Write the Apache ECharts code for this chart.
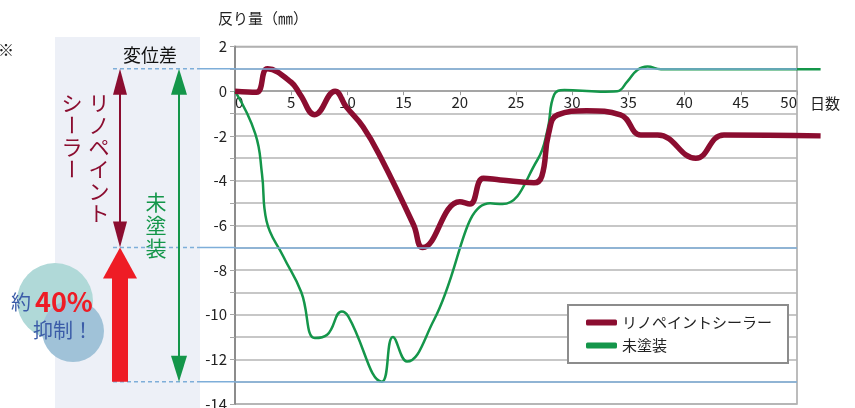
<!DOCTYPE html>
<html><head><meta charset="utf-8">
<script src="https://cdn.jsdelivr.net/npm/echarts@6/dist/echarts.min.js"></script>
<style>html,body{margin:0;padding:0;background:#fff}#c{width:855px;height:408px}</style>
</head><body><div id="c"></div>
<script>
// ---- data ----
const seriesNames = ['リノペイントシーラー', '未塗装'];
const redDays = [0, 1.9, 2.9, 5.0, 5.8, 7.1, 8.9, 9.9, 11.4, 13.0, 15.9, 16.7, 20.0, 20.9, 22.1, 23.6, 26.6, 27.3, 27.9, 28.7, 31.3, 34.3, 36.1, 37.6, 41.0, 43.5, 52.1];
const redVals = [0, -0.05, 1.0, 0.4, -0.15, -1.05, 0, -0.7, -1.6, -3.0, -6.0, -7.0, -4.95, -5.05, -3.9, -3.97, -4.1, -3.8, -1.9, -1.06, -0.87, -1.06, -1.96, -1.96, -3.0, -1.96, -2.0];
const greenDays = [0, 1.8, 2.4, 2.8, 4.3, 5.9, 7.1, 8.2, 9.5, 10.1, 13.07, 14.05, 15.3, 17.7, 22.7, 23.8, 26.9, 27.8, 28.4, 29.3, 32.5, 34.0, 34.9, 35.8, 36.7, 37.9, 52.1];
const greenVals = [0, -1.9, -3.7, -5.8, -7.4, -9.0, -11.05, -10.9, -9.86, -10.1, -13.0, -11.0, -12.1, -10.24, -5.02, -5.05, -3.08, -1.74, -0.15, 0.05, -0.02, 0, 0.43, 0.95, 1.1, 0.98, 0.98];
const refLevels = [1, -7, -13];     // reference lines: untreated final, sealer min, untreated min
const yMin = -14, yMax = 2, xMin = 0, xMax = 50;

const FONT = '"Noto Sans CJK JP", "Noto Sans", sans-serif';
const RED = '#8b0d30', GREEN = '#14964a', BLUE_LINE = '#7eaed9', TXT_BLUE = '#3b5ca8';

const zip = (a, b) => a.map((v, i) => [v, b[i]]);
const chart = echarts.init(document.getElementById('c'));

// the curves run a little past the plot frame (day 50); an invisible second grid with the
// same day scale but a wider extent carries them.
const G_LEFT = 235, G_RIGHT = 58, G_TOP = 46.5, G_BOTTOM = 4;
const xExt = Math.max(redDays[redDays.length - 1], greenDays[greenDays.length - 1]);
const plotW = chart.getWidth() - G_LEFT - G_RIGHT;
const extRight = chart.getWidth() - G_LEFT - plotW * (xExt - xMin) / (xMax - xMin);

chart.setOption({
  animation: false,
  textStyle: { fontFamily: FONT },
  grid: [
    { left: G_LEFT, right: G_RIGHT, top: G_TOP, bottom: G_BOTTOM, outerBoundsMode: 'none', containLabel: false,
      show: true, borderColor: '#a6a6a6', borderWidth: 1.5, backgroundColor: 'transparent' },
    { left: G_LEFT, right: extRight, top: G_TOP, bottom: G_BOTTOM, outerBoundsMode: 'none', containLabel: false, show: false }
  ],
  xAxis: [{
    type: 'value', min: xMin, max: xMax, interval: 5, position: 'bottom', offset: 0, gridIndex: 0,
    axisLine: { onZero: false, lineStyle: { color: '#9a9a9a', width: 1.5 } },
    axisTick: { show: true, length: 4, lineStyle: { color: '#9a9a9a' } },
    axisLabel: { fontSize: 15, color: '#222', margin: 4, fontFamily: FONT, alignMinLabel: 'left', alignMaxLabel: 'right' },
    splitLine: { show: false }
  }, {
    type: 'value', min: xMin, max: xExt, gridIndex: 1, show: false
  }],
  yAxis: [{
    type: 'value', min: yMin, max: yMax, interval: 1, gridIndex: 0,
    axisLine: { show: true, onZero: false, lineStyle: { color: '#8c8c8c', width: 2 } },
    axisTick: { show: true, length: 5, lineStyle: { color: '#a6a6a6' } },
    axisLabel: { fontSize: 15, color: '#222', margin: 8, fontFamily: FONT,
      formatter: v => (Math.round(v) % 2 === 0 ? String(v) : '') },
    splitLine: { show: true, lineStyle: { color: '#b4b4b4', width: 1.5 } }
  }, {
    type: 'value', min: yMin, max: yMax, gridIndex: 1, show: false, splitLine: { show: false }
  }],
  legend: {
    data: seriesNames, orient: 'vertical', left: 568, top: 305,
    backgroundColor: '#fff', borderColor: '#8c8c8c', borderWidth: 2,
    padding: [10, 16, 10, 18], itemGap: 8, itemWidth: 31, itemHeight: 6, icon: 'roundRect',
    textStyle: { fontSize: 15, color: '#222', fontFamily: FONT }
  },
  series: [
    { name: 'ref', type: 'line', data: [], z: 1, silent: true, xAxisIndex: 0, yAxisIndex: 0,
      markLine: { silent: true, symbol: 'none', label: { show: false },
        lineStyle: { color: BLUE_LINE, width: 1.5, type: 'solid' },
        data: refLevels.map(v => ({ yAxis: v })) } },
    { name: seriesNames[0], type: 'line', data: zip(redDays, redVals), z: 4, clip: false, xAxisIndex: 1, yAxisIndex: 1,
      smooth: 0.45, showSymbol: false, color: RED, lineStyle: { color: RED, width: 5.5 } },
    { name: seriesNames[1], type: 'line', data: zip(greenDays, greenVals), z: 3, clip: false, xAxisIndex: 1, yAxisIndex: 1,
      smooth: 0.45, showSymbol: false, color: GREEN, lineStyle: { color: GREEN, width: 2.5 } }
  ]
});

// ---- annotations tied to data levels ----
const py = v => chart.convertToPixel({ gridIndex: 0 }, [0, v])[1];
// move the x axis (line, ticks, labels) up to the y = 0 line
chart.setOption({ xAxis: [{ offset: py(0) - py(yMin) }, {}] });

const yTop = py(refLevels[0]), yMid = py(refLevels[1]), yBot = py(refLevels[2]);
const gridLeft = chart.convertToPixel({ gridIndex: 0 }, [xMin, 0])[0];

function head(x, tipY, dir, hw, len, color) {
  return { type: 'polygon', shape: { points: [[x, tipY], [x - hw, tipY + dir * len], [x + hw, tipY + dir * len]] }, style: { fill: color }, z: 6 };
}
function vtext(chars, x, y0, step, color, size) {
  return chars.split('').map((ch, i) => ({
    type: 'text', x: x, y: y0 + i * step, rotation: ch === 'ー' ? -Math.PI / 2 : 0, z: 7,
    style: { text: ch, fill: color, font: `${size}px ${FONT}`, align: 'center', verticalAlign: 'middle' }
  }));
}
const g = [];
g.push({ type: 'rect', shape: { x: 55, y: 37, width: 145, height: 371 }, style: { fill: '#edf0f7' }, z: 0 });
refLevels.forEach(v => {
  const y = py(v);
  g.push({ type: 'line', shape: { x1: 113, y1: y, x2: 200, y2: y }, style: { stroke: BLUE_LINE, lineWidth: 1.5, lineDash: [4, 3] }, z: 2 });
  g.push({ type: 'line', shape: { x1: 200, y1: y, x2: gridLeft, y2: y }, style: { stroke: BLUE_LINE, lineWidth: 1.5 }, z: 2 });
});
g.push({ type: 'text', x: 218, y: 18, style: { text: '反り量（㎜）', fill: '#222', font: `15px ${FONT}`, verticalAlign: 'middle' }, z: 7 });
g.push({ type: 'text', x: 810, y: 103, style: { text: '日数', fill: '#222', font: `15px ${FONT}`, verticalAlign: 'middle' }, z: 7 });
g.push({ type: 'text', x: 6, y: 50, style: { text: '※', fill: '#222', font: `16px ${FONT}`, align: 'center', verticalAlign: 'middle' }, z: 7 });
g.push({ type: 'text', x: 150, y: 55, style: { text: '変位差', fill: '#111', font: `18px ${FONT}`, align: 'center', verticalAlign: 'middle' }, z: 7 });
// dark red double arrow (sealer)
g.push({ type: 'line', shape: { x1: 120, y1: yTop + 20, x2: 120, y2: yMid - 20 }, style: { stroke: RED, lineWidth: 2 }, z: 5 });
g.push(head(120, yTop, 1, 7, 26, RED), head(120, yMid, -1, 7, 26, RED));
// green double arrow (untreated)
g.push({ type: 'line', shape: { x1: 179, y1: yTop + 20, x2: 179, y2: yBot - 20 }, style: { stroke: GREEN, lineWidth: 2 }, z: 5 });
g.push(head(179, yTop, 1, 8, 26, GREEN), head(179, yBot, -1, 8, 26, GREEN));
// big red arrow
g.push({ type: 'rect', shape: { x: 112, y: yMid + 28, width: 16, height: yBot - yMid - 28 }, style: { fill: '#ee1c25' }, z: 5 });
g.push(head(120, yMid, 1, 17, 31, '#ee1c25'));
// vertical texts
g.push(...vtext('リノペイント', 99, 103, 22, RED, 21));
g.push(...vtext('シーラー', 72, 103, 22, RED, 21));
g.push(...vtext('未塗装', 156, 202, 23, GREEN, 21));
// circles
g.push({ type: 'circle', shape: { cx: 55, cy: 301, r: 38 }, style: { fill: '#b0d9d8' }, z: 3 });
g.push({ type: 'circle', shape: { cx: 73, cy: 331, r: 31 }, style: { fill: '#a0c2d8' }, z: 3 });
g.push({ type: 'text', x: 11, y: 302, style: { text: '約', fill: TXT_BLUE, font: `20px ${FONT}`, verticalAlign: 'middle' }, z: 7 });
g.push({ type: 'text', x: 35, y: 302, style: { text: '40%', fill: '#ee1c25', font: `bold 27px ${FONT}`, verticalAlign: 'middle' }, z: 7 });
g.push({ type: 'text', x: 33, y: 330, style: { text: '抑制！', fill: TXT_BLUE, font: `20px ${FONT}`, verticalAlign: 'middle' }, z: 7 });

chart.setOption({ graphic: g });
</script></body></html>
